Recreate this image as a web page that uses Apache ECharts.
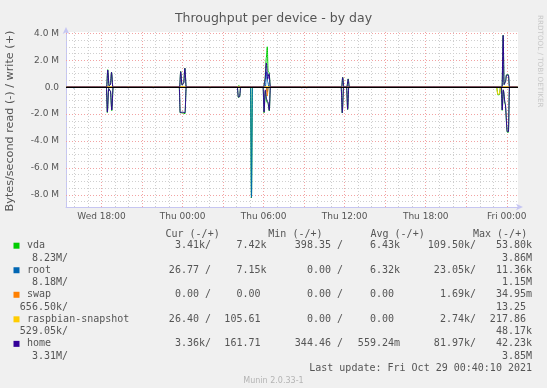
<!DOCTYPE html>
<html><head><meta charset="utf-8">
<script src="https://cdn.jsdelivr.net/npm/echarts@6/dist/echarts.min.js"></script>
<style>html,body{margin:0;padding:0;background:#f0f0f0}#c{width:547px;height:388px}</style>
</head><body><div id="c"></div>
<script>
// ---- axis ticks (hours since Wed 00:00, values in MB/s) ----
const xTickValues = [18, 24, 30, 36, 42, 48];
const xTickLabels = ['Wed 18:00', 'Thu 00:00', 'Thu 06:00', 'Thu 12:00', 'Thu 18:00', 'Fri 00:00'];
const yTickValues = [-8, -6, -4, -2, 0, 2, 4];

// ---- series: [hour, MB/s]; read plotted negative, write positive ----
const vdaWrite = [[15.4,0],
  [18.38,0],[18.46,1.3],[18.56,0.1],[18.66,0.2],[18.74,1.12],[18.84,0],
  [23.78,0],[23.86,1.17],[23.96,0.15],[24.08,0.3],[24.17,1.42],[24.27,0],
  [28.08,0],[28.13,0.1],[28.2,0.1],[28.26,0],
  [30.0,0],[30.1,0.6],[30.2,2.2],[30.27,3.0],[30.33,1.2],[30.4,1.1],[30.5,0],
  [35.78,0],[35.85,0.74],[35.94,0],[36.16,0],[36.26,0.62],[36.34,0],
  [47.3,0],[47.4,0.05],[47.5,0],
  [47.65,0],[47.73,3.86],[47.8,0.2],[47.9,0.4],[47.98,0.92],[48.12,0.92],[48.2,0],
  [48.8,0]];
const vdaRead = [[15.4,0],
  [18.36,0],[18.43,-1.88],[18.53,-0.1],[18.66,-0.3],[18.76,-1.74],[18.86,0],
  [23.75,0],[23.82,-1.9],[24.0,-1.9],[24.18,-1.97],[24.27,0],
  [28.05,0],[28.13,-0.76],[28.22,-0.72],[28.3,0],
  [29.03,0],[29.1,-8.23],[29.17,0],
  [29.96,0],[30.03,-1.9],[30.12,-0.3],[30.22,-1.07],[30.32,-1.2],[30.42,-1.76],[30.5,0],
  [35.74,0],[35.82,-1.92],[35.92,0],[36.14,0],[36.22,-1.66],[36.3,0],
  [47.25,0],[47.34,-0.57],[47.46,-0.55],[47.53,0],
  [47.6,0],[47.66,-1.72],[47.74,-0.2],[47.88,-1.25],[48.04,-3.35],[48.12,-3.35],[48.2,0],
  [48.8,0]];
const rootWrite = [[15.4,0],[29.2,0],[29.24,0.08],[29.3,0],[29.36,0.08],[29.42,0],
  [30.13,0],[30.22,1.15],[30.3,0.4],[30.4,0],[48.8,0]];
const rootRead = [[15.4,0],[15.92,0],[15.96,-0.08],[16.0,0],
  [29.03,0],[29.1,-8.18],[29.17,0],[30.2,0],[30.27,-0.35],[30.34,0],[48.8,0]];
const swapWrite = [[15.4,0],[48.8,0]];
const swapRead = [[15.4,0],[30.2,0],[30.27,-0.66],[30.34,0],[48.8,0]];
const raspWrite = [[15.4,0],[47.3,0],[47.4,0.05],[47.5,0],[48.8,0]];
const raspRead = [[15.4,0],
  [42.27,0],[42.31,-0.05],[42.35,0],[42.57,0],[42.61,-0.05],[42.65,0],
  [44.62,0],[44.66,-0.05],[44.7,0],[46.17,0],[46.21,-0.05],[46.25,0],
  [47.01,0],[47.05,-0.05],[47.09,0],
  [47.25,0],[47.34,-0.53],[47.46,-0.5],[47.53,0],[48.8,0]];
const homeWrite = [[15.4,0],
  [18.38,0],[18.46,1.28],[18.56,0.1],[18.66,0.2],[18.74,1.1],[18.84,0],
  [23.78,0],[23.86,1.15],[23.96,0.15],[24.08,0.3],[24.17,1.4],[24.27,0],
  [30.0,0],[30.1,0.5],[30.2,1.8],[30.3,0.6],[30.4,1.0],[30.5,0],
  [35.78,0],[35.85,0.72],[35.94,0],[36.16,0],[36.26,0.6],[36.34,0],
  [47.65,0],[47.73,3.85],[47.8,0.2],[47.9,0.4],[47.98,0.9],[48.12,0.9],[48.2,0],
  [48.8,0]];
const homeRead = [[15.4,0],
  [18.36,0],[18.43,-1.85],[18.53,-0.1],[18.66,-0.3],[18.76,-1.7],[18.86,0],
  [19.94,0],[19.98,-0.07],[20.02,0],[21.79,0],[21.83,-0.07],[21.87,0],
  [23.76,0],[23.82,-1.88],[24.0,-1.85],[24.18,-1.9],[24.27,0],
  [25.99,0],[26.03,-0.07],[26.07,0],
  [28.05,0],[28.13,-0.74],[28.22,-0.7],[28.3,0],
  [29.96,0],[30.03,-1.85],[30.12,-0.2],[30.22,-0.9],[30.32,-1.1],[30.42,-1.72],[30.5,0],
  [32.78,0],[32.82,-0.07],[32.86,0],[33.15,0],[33.19,-0.07],[33.23,0],
  [35.74,0],[35.82,-1.9],[35.92,0],[36.14,0],[36.22,-1.64],[36.3,0],
  [47.6,0],[47.66,-1.69],[47.74,-0.2],[47.88,-1.2],[48.04,-3.31],[48.12,-3.3],[48.2,0],
  [48.8,0]];

// ---- legend table ----
const devNames = ['vda', 'root', 'swap', 'raspbian-snapshot', 'home'];
const devColors = ['#00cc00', '#0066b3', '#ff8000', '#ffcc00', '#330099'];
const curVals = [['3.41k','7.42k'],['26.77','7.15k'],['0.00','0.00'],['26.40','105.61'],['3.36k','161.71']];
const minVals = [['398.35','6.43k'],['0.00','6.32k'],['0.00','0.00'],['0.00','0.00'],['344.46','559.24m']];
const avgVals = [['109.50k','53.80k'],['23.05k','11.36k'],['1.69k','34.95m'],['2.74k','217.86'],['81.97k','42.23k']];
const maxVals = [['8.23M','3.86M'],['8.18M','1.15M'],['656.50k','13.25'],['529.05k','48.17k'],['3.31M','3.85M']];
const colHeaders = ['Cur (-/+)', 'Min (-/+)', 'Avg (-/+)', 'Max (-/+)'];

const TXT = '#555555';
const SANS = 'DejaVu Sans';
const MONO = 'DejaVu Sans Mono';
const CW = 6.02;

const chart = echarts.init(document.getElementById('c'), null, {renderer: 'canvas'});

// grid lines as markLines
const gridLines = [];
for (let h = 16; h <= 48; h++) {
  if (h % 3 !== 0) gridLines.push({xAxis: h, lineStyle: {color: '#cfcfcf', type: [1, 2], width: 1}});
}
for (let v = -8.5; v <= 4.01; v += 0.5) {
  if (Math.abs(v % 2) > 0.01) gridLines.push({yAxis: v, lineStyle: {color: '#cfcfcf', type: [1, 2], width: 1}});
}
for (let h = 18; h <= 48; h += 3) gridLines.push({xAxis: h, lineStyle: {color: '#f2a3a3', type: [1, 2], width: 1}});
yTickValues.forEach(v => { if (v !== 0) gridLines.push({yAxis: v, lineStyle: {color: '#f2a3a3', type: [1, 2], width: 1}}); });

function lineSeries(name, data, color) {
  return {type: 'line', name, data, smooth: 0.3, smoothMonotone: 'x', symbol: 'none',
    lineStyle: {color, width: 1}, z: 3, silent: true};
}

const series = [
  {type: 'line', data: [[15.4,0],[48.8,0]], symbol: 'none', lineStyle: {opacity: 0}, z: 1, silent: true,
   markLine: {silent: true, symbol: ['none','none'], label: {show: false}, z: 1, animation: false, data: gridLines}},
  lineSeries('vda-', vdaRead, devColors[0]), lineSeries('vda+', vdaWrite, devColors[0]),
  lineSeries('root-', rootRead, devColors[1]), lineSeries('root+', rootWrite, devColors[1]),
  lineSeries('swap-', swapRead, devColors[2]), lineSeries('swap+', swapWrite, devColors[2]),
  lineSeries('rasp-', raspRead, devColors[3]), lineSeries('rasp+', raspWrite, devColors[3]),
  lineSeries('home-', homeRead, devColors[4]), lineSeries('home+', homeWrite, devColors[4]),
  {type: 'line', data: [[15.4,0],[48.8,0]], symbol: 'none', lineStyle: {opacity: 0}, z: 6, silent: true,
   markLine: {silent: true, symbol: ['none','none'], label: {show: false}, z: 6, animation: false,
     data: [{yAxis: 0, lineStyle: {color: '#000', type: 'solid', width: 1}}]}}
];

// graphic texts
const g = [];
g.push({type: 'text', x: 10, y: 121, rotation: Math.PI / 2,
  style: {text: 'Bytes/second read (-) / write (+)', fontFamily: SANS, fontSize: 11.2, fill: TXT, align: 'center', verticalAlign: 'middle'}});
g.push({type: 'text', x: 540, y: 15, rotation: -Math.PI / 2,
  style: {text: 'RRDTOOL / TOBI OETIKER', fontFamily: SANS, fontSize: 7.2, fill: '#c8c8c8', align: 'left', verticalAlign: 'middle'}});

function mono(text, x, y, align) {
  g.push({type: 'text', x, y, style: {text, fontFamily: MONO, fontSize: 10, fill: TXT, align, verticalAlign: 'middle'}});
}
const headerX = [165.5, 268.3, 370.5, 473];
colHeaders.forEach((t, i) => mono(t, headerX[i], 234.5, 'left'));

const rowY = i => 245.7 + i * 12.27;
function readStr(s) { return /[0-9]$/.test(s) ? s + ' /' : s + '/'; }
function writeAt(s, x, y) { mono(s, /[0-9]$/.test(s) ? x - CW : x, y, 'right'); }

devNames.forEach((n, d) => {
  const y1 = rowY(2 * d), y2 = rowY(2 * d + 1);
  g.push({type: 'rect', shape: {x: 13.5, y: y1 - 3, width: 6, height: 6}, style: {fill: devColors[d]}});
  mono(n, 27, y1, 'left');
  mono(readStr(curVals[d][0]), 211, y1, 'right'); writeAt(curVals[d][1], 266.5, y1);
  mono(readStr(minVals[d][0]), 343, y1, 'right'); writeAt(minVals[d][1], 400, y1);
  mono(readStr(avgVals[d][0]), 476, y1, 'right'); writeAt(avgVals[d][1], 532, y1);
  mono(readStr(maxVals[d][0]), 68, y2, 'right'); writeAt(maxVals[d][1], 532, y2);
});
mono('Last update: Fri Oct 29 00:40:10 2021', 532, rowY(10), 'right');
g.push({type: 'text', x: 273.5, y: 380.5,
  style: {text: 'Munin 2.0.33-1', fontFamily: SANS, fontSize: 8, fill: '#b4b4b4', align: 'center', verticalAlign: 'middle'}});

const axisLineStyle = {color: '#c6c6f2', width: 1};

chart.setOption({
  animation: false,
  backgroundColor: '#f0f0f0',
  title: {text: 'Throughput per device - by day', left: 'center', top: 7,
    textStyle: {fontFamily: SANS, fontSize: 12.5, fontWeight: 'normal', color: TXT}},
  grid: {left: 66, top: 32, width: 452, height: 175, show: true, backgroundColor: '#ffffff', borderWidth: 0, containLabel: false},
  xAxis: {type: 'value', min: 15.37, max: 48.83,
    axisLine: {show: true, onZero: false, lineStyle: axisLineStyle, symbol: ['none', 'arrow'], symbolSize: [5, 7], symbolOffset: [0, 5]},
    axisTick: {show: false}, splitLine: {show: false},
    axisLabel: {customValues: xTickValues, margin: 5, fontFamily: SANS, fontSize: 9, color: TXT,
      formatter: v => xTickLabels[xTickValues.indexOf(v)] || ''}},
  yAxis: {type: 'value', min: -8.9, max: 4.1,
    axisLine: {show: true, onZero: false, lineStyle: axisLineStyle, symbol: ['none', 'arrow'], symbolSize: [5, 7], symbolOffset: [0, 5]},
    axisTick: {show: false}, splitLine: {show: false},
    axisLabel: {customValues: yTickValues, margin: 7, fontFamily: SANS, fontSize: 9, color: TXT,
      formatter: v => v === 0 ? '0.0' : v.toFixed(1) + ' M'}},
  series,
  graphic: g
});
</script></body></html>
